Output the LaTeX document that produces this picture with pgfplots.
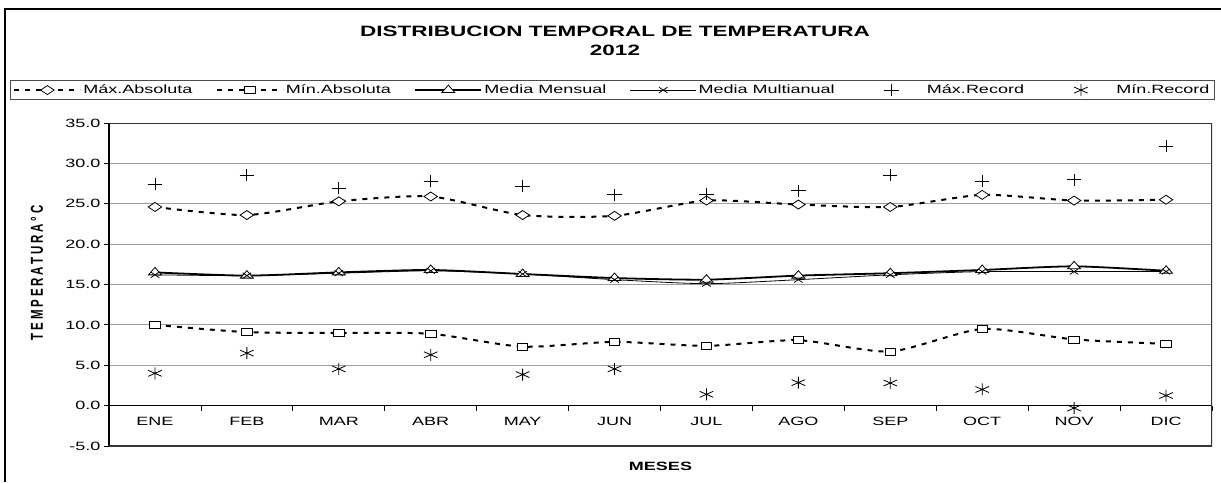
\documentclass[border=0pt]{standalone}
\usepackage{graphicx}
\usepackage{pgfplots}
\pgfplotsset{compat=1.18}
\usepackage{fontspec}
\setmainfont{Liberation Sans}[FakeStretch=1.5]
\newfontfamily\ylabfont{Liberation Sans}[LetterSpace=25]
\pgfplotsset{
  markonlylegend/.style={legend image code/.code={\draw[##1] plot coordinates {(33pt,0pt)};\path (0pt,0pt) (66pt,0pt);}},
}
\begin{document}
\begin{tikzpicture}
\path[use as bounding box] (0pt,0pt) rectangle (1221pt,-482pt);
\draw[black, line width=1.2pt] (5pt,-482pt) -- (5pt,-9pt) -- (1221pt,-9pt);
\node[font=\fontsize{15}{19.5}\selectfont\bfseries, align=center] at (615pt,-41pt) {DISTRIBUCION TEMPORAL DE TEMPERATURA\\2012};
\begin{axis}[
  at={(109pt,-446pt)}, anchor=south west,
  scale only axis, width=1103pt, height=323pt,
  xmin=0.5, xmax=12.5, ymin=-5, ymax=35,
  axis x line*=middle, axis y line*=left,
  separate axis lines,
  x axis line style={black, line width=1pt},
  y axis line style={black, line width=1.5pt},
  hide obscured x ticks=false, hide obscured y ticks=false,
  tick align=outside, major tick length=5pt,
  tick style={black, line width=0.8pt},
  xtick={0.5,1.5,2.5,3.5,4.5,5.5,6.5,7.5,8.5,9.5,10.5,11.5,12.5},
  x tick label as interval,
  xticklabels={ENE,FEB,MAR,ABR,MAY,JUN,JUL,AGO,SEP,OCT,NOV,DIC},
  xticklabel style={font=\fontsize{12}{14}\selectfont, yshift=-3pt},
  ytick={-5,0,5,10,15,20,25,30,35},
  /pgf/number format/assume math mode=true,
  yticklabel style={font=\fontsize{12}{14}\selectfont, /pgf/number format/.cd, fixed, fixed zerofill, precision=1, assume math mode=true, /tikz/.cd},
  ymajorgrids, major grid style={gray!75, line width=0.8pt},
  xlabel={\bfseries MESES},
  xlabel style={font=\fontsize{12}{14}\selectfont, at={(axis description cs:0.5,-0.062)}, anchor=center},
  ylabel={\scalebox{1}[1.5]{\ylabfont\bfseries\fontsize{11.5}{13}\selectfont TEMPERATURA°C}},
  ylabel style={at={(axis description cs:-0.0653,0.5356)}, anchor=center},
  legend columns=6,
  legend cell align=left,
  legend style={at={(-0.0898,1.1331)}, anchor=north west, draw=gray!60!black, line width=0.8pt,
    font=\fontsize{12}{14}\selectfont, inner ysep=2.5pt,
    /tikz/every even column/.append style={column sep=21.5pt}},
  legend image code/.code={\draw[mark repeat=2,mark phase=2,#1] plot coordinates {(0pt,0pt) (33pt,0pt) (66pt,0pt)};},
]
% Max absoluta
\addplot[black, line width=2pt, dash pattern=on 5pt off 6pt, smooth, tension=0.4,
  mark=diamond*, mark size=4.5pt, mark options={solid, fill=white, line width=0.8pt, xscale=2}]
  coordinates {(1,24.6) (2,23.6) (3,25.3) (4,25.9) (5,23.6) (6,23.5) (7,25.4) (8,24.9) (9,24.6) (10,26.1) (11,25.4) (12,25.5)};
\addlegendentry{Máx.Absoluta}
% Min absoluta
\addplot[black, line width=2pt, dash pattern=on 5pt off 6pt, smooth, tension=0.4,
  mark=square*, mark size=3.5pt, mark options={solid, fill=white, line width=0.8pt, xscale=1.5}]
  coordinates {(1,10.0) (2,9.1) (3,9.0) (4,8.9) (5,7.3) (6,7.9) (7,7.4) (8,8.1) (9,6.7) (10,9.5) (11,8.2) (12,7.65)};
\addlegendentry{Mín.Absoluta}
% Media mensual
\addplot[black, line width=1.8pt, smooth, tension=0.4,
  mark=triangle*, mark size=5pt, mark options={fill=white, line width=0.8pt, xscale=1.5}]
  coordinates {(1,16.5) (2,16.1) (3,16.5) (4,16.8) (5,16.3) (6,15.8) (7,15.6) (8,16.1) (9,16.4) (10,16.8) (11,17.25) (12,16.7)};
\addlegendentry{Media Mensual}
% Media multianual
\addplot[black, line width=0.8pt, smooth, tension=0.4,
  mark=x, mark size=4pt, mark options={line width=0.8pt, xscale=1.5}]
  coordinates {(1,16.2) (2,16.1) (3,16.4) (4,16.7) (5,16.3) (6,15.6) (7,15.1) (8,15.6) (9,16.2) (10,16.6) (11,16.6) (12,16.6)};
\addlegendentry{Media Multianual}
% Max record
\addplot[black, only marks, mark=+, mark size=6pt, mark options={line width=0.8pt, xscale=1.2}, markonlylegend]
  coordinates {(1,27.4) (2,28.5) (3,26.9) (4,27.8) (5,27.2) (6,26.1) (7,26.2) (8,26.6) (9,28.5) (10,27.8) (11,28.0) (12,32.1)};
\addlegendentry{Máx.Record}
% Min record
\addplot[black, only marks, mark=asterisk, mark size=6pt, mark options={line width=0.8pt, xscale=1.3}, markonlylegend]
  coordinates {(1,4.0) (2,6.5) (3,4.55) (4,6.3) (5,3.85) (6,4.55) (7,1.4) (8,2.85) (9,2.8) (10,2.0) (11,-0.3) (12,1.25)};
\addlegendentry{Mín.Record}
\draw[gray!40!black, line width=1.5pt] (rel axis cs:0,0) -- (rel axis cs:1,0) -- (rel axis cs:1,1) -- (rel axis cs:0,1);
\end{axis}
\end{tikzpicture}
\end{document}
